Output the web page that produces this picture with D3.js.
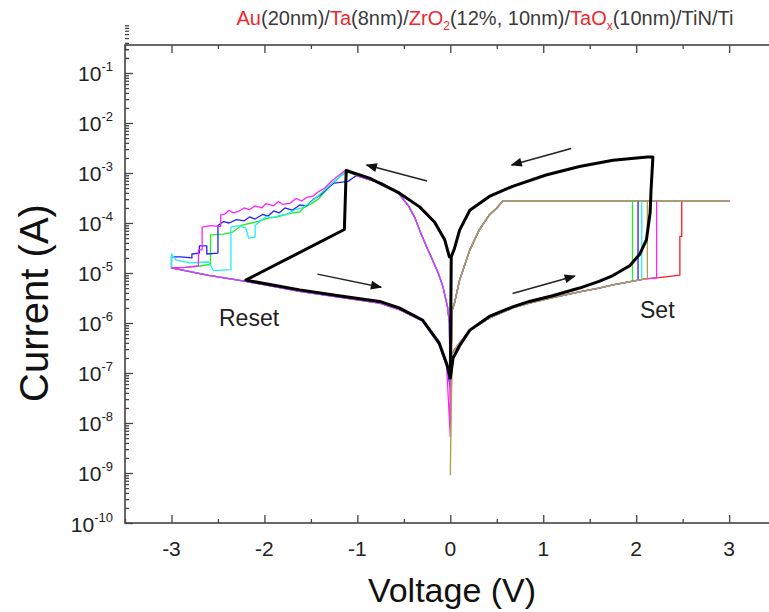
<!DOCTYPE html>
<html lang="en">
<head>
<meta charset="UTF-8"/>
<title>I-V switching curves</title>
<script src="https://d3js.org/d3.v7.min.js"></script>
<style>
  body { margin: 0; background: #fff; }
  svg { font-family: "Liberation Sans", Arial, sans-serif; }
</style>
</head>
<body>
<script>
var w = 769, h = 612;
var margin = {left: 125, top: 45, bottom: 523};

// axis values
var xMajor = [-3, -2, -1, 0, 1, 2, 3];
var xMinor = [-3.5, -2.5, -1.5, -0.5, 0.5, 1.5, 2.5, 3.5];
var yExps = [-1, -2, -3, -4, -5, -6, -7, -8, -9, -10];
var compliance = 2.8e-4;

// thick black cycle [V, A]
var blackCurve = [
  [0, 7.9e-8], [0.03, 2.0e-7], [0.1, 3.5e-7], [0.21, 7.2e-7], [0.42, 1.35e-6], [0.67, 2.1e-6],
  [0.85, 2.7e-6], [1.1, 3.5e-6], [1.39, 5.0e-6], [1.6, 6.8e-6], [1.75, 8.9e-6], [1.93, 1.4e-5],
  [2.04, 2.4e-5], [2.11, 4.6e-5], [2.15, 1.6e-4], [2.16, 4.6e-4], [2.18, 2.1e-3],
  [2.12, 2.1e-3], [1.75, 1.8e-3], [1.39, 1.35e-3], [1.03, 9.1e-4], [0.67, 5.4e-4], [0.42, 3.4e-4],
  [0.21, 1.8e-4], [0.1, 7.2e-5], [0.045, 3.1e-5], [0.01, 2.1e-5], [0, 7.9e-8],
  [-0.04, 1.55e-7], [-0.12, 4.0e-7], [-0.3, 1.15e-6], [-0.55, 2.0e-6], [-0.76, 2.7e-6],
  [-1.2, 3.5e-6], [-1.62, 4.6e-6], [-2.2, 7.2e-6],
  [-1.14, 7.4e-5], [-1.12, 1.12e-3],
  [-0.87, 7.9e-4], [-0.55, 4.0e-4], [-0.33, 2.1e-4], [-0.17, 1.05e-4], [-0.06, 4.6e-5],
  [-0.01, 2.1e-5], [0, 2.1e-5]
];

// shared branches of the coloured cycles
var hrsRight = [
  [0.02, 2.5e-7], [0.1, 4.0e-7], [0.21, 7.1e-7], [0.42, 1.26e-6], [0.67, 2.0e-6], [0.85, 2.5e-6],
  [1.1, 3.2e-6], [1.39, 4.2e-6], [1.6, 5.0e-6], [1.75, 5.8e-6], [1.95, 6.8e-6], [2.1, 7.6e-6],
  [2.25, 8.1e-6], [2.5, 9.1e-6]
];
var lrsRight = [
  [0.57, 2.8e-4], [0.5, 2.0e-4], [0.42, 1.45e-4], [0.31, 7.2e-5], [0.21, 2.9e-5], [0.1, 7.2e-6],
  [0.045, 2.5e-6], [0.02, 1.8e-6]
];
var lrsLeft = [
  [-0.01, 1.0e-6], [-0.03, 2.1e-6], [-0.08, 5.4e-6], [-0.13, 1.0e-5], [-0.19, 1.8e-5],
  [-0.26, 3.5e-5], [-0.33, 7.2e-5], [-0.38, 1.26e-4], [-0.45, 2.2e-4], [-0.55, 3.8e-4],
  [-0.73, 6.2e-4], [-0.9, 7.6e-4], [-1.01, 8.9e-4]
];
var hrsLeft = [
  [-2.6, 9.0e-6], [-2.2, 6.8e-6], [-1.62, 4.3e-6], [-1.2, 3.3e-6], [-0.76, 2.5e-6],
  [-0.55, 1.86e-6], [-0.3, 1.1e-6], [-0.12, 3.7e-7], [-0.04, 1.4e-7]
];

// per-cycle set jumps
var redSet = [[2.47, 9.1e-6], [2.47, 5.4e-5], [2.49, 5.4e-5], [2.49, 2.8e-4]];
var greenSet = [[1.96, 6.8e-6], [1.96, 2.8e-4]];
var blueSet = [[2.02, 7.2e-6], [2.02, 2.8e-4]];
var cyanSet = [[2.06, 7.4e-6], [2.06, 2.8e-4]];
var magentaSet = [[2.22, 8.0e-6], [2.22, 2.8e-4]];
var oliveSet = [[2.12, 7.6e-6], [2.12, 2.8e-4]];

// per-cycle reset traces (noisy part)
var magentaReset = [
  [-1.12, 1.17e-3], [-1.2, 8.9e-4], [-1.27, 7.1e-4], [-1.35, 5.0e-4], [-1.42, 4.2e-4],
  [-1.47, 3.5e-4], [-1.55, 3.2e-4], [-1.6, 2.75e-4], [-1.66, 3.1e-4], [-1.72, 2.5e-4],
  [-1.8, 2.35e-4], [-1.85, 2.7e-4], [-1.9, 2.2e-4], [-1.98, 2.45e-4], [-2.03, 2.0e-4],
  [-2.1, 2.2e-4], [-2.16, 1.86e-4], [-2.22, 2.0e-4], [-2.28, 1.7e-4], [-2.34, 1.6e-4],
  [-2.38, 1.8e-4], [-2.43, 1.5e-4], [-2.47, 1.45e-4], [-2.47, 8.5e-5], [-2.58, 8.9e-5],
  [-2.67, 8.3e-5], [-2.67, 2.9e-5], [-2.71, 2.9e-5], [-2.71, 1.38e-5], [-2.85, 1.3e-5],
  [-3.0, 1.26e-5]
];
var blueReset = [
  [-1.1, 6.8e-4], [-1.25, 6.3e-4], [-1.32, 5.0e-4], [-1.4, 3.6e-4], [-1.47, 3.0e-4],
  [-1.55, 2.2e-4], [-1.62, 2.3e-4], [-1.7, 1.8e-4], [-1.78, 2.0e-4], [-1.84, 1.6e-4],
  [-1.9, 1.74e-4], [-1.96, 1.38e-4], [-2.02, 1.48e-4], [-2.1, 1.2e-4], [-2.16, 1.32e-4],
  [-2.22, 1.1e-4], [-2.3, 1.17e-4], [-2.38, 1.0e-4], [-2.44, 1.07e-4], [-2.5, 8.9e-5],
  [-2.5, 2.5e-5], [-2.62, 2.4e-5], [-2.62, 3.5e-5], [-2.7, 3.5e-5], [-2.7, 2.5e-5],
  [-2.78, 2.4e-5], [-2.78, 2.0e-5], [-2.9, 2.1e-5], [-3.0, 2.1e-5], [-3.0, 1.26e-5]
];
var cyanReset = [
  [-1.12, 1.1e-3], [-1.22, 7.6e-4], [-1.32, 5.2e-4], [-1.42, 3.5e-4], [-1.5, 2.6e-4],
  [-1.6, 2.0e-4], [-1.68, 1.8e-4], [-1.76, 1.5e-4], [-1.84, 1.4e-4], [-1.92, 1.26e-4],
  [-1.98, 1.35e-4], [-2.05, 1.07e-4], [-2.1, 8.9e-5], [-2.1, 5.2e-5], [-2.17, 5.0e-5],
  [-2.2, 7.9e-5], [-2.28, 8.9e-5], [-2.36, 8.3e-5], [-2.36, 1.17e-5], [-2.55, 1.12e-5],
  [-2.6, 1.66e-5], [-2.8, 1.6e-5], [-2.95, 1.8e-5], [-3.0, 2.4e-5], [-3.0, 1.26e-5]
];
var greenReset = [
  [-1.12, 1.07e-3], [-1.25, 6.6e-4], [-1.35, 4.2e-4], [-1.42, 3.0e-4], [-1.5, 2.4e-4],
  [-1.58, 2.0e-4], [-1.62, 1.66e-4], [-1.7, 1.6e-4], [-1.78, 1.45e-4], [-1.86, 1.32e-4],
  [-1.95, 1.26e-4], [-2.04, 1.12e-4], [-2.14, 1.0e-4], [-2.24, 9.1e-5], [-2.34, 6.6e-5],
  [-2.44, 6.0e-5], [-2.58, 5.8e-5], [-2.58, 1.48e-5], [-2.7, 1.38e-5], [-2.85, 1.3e-5],
  [-3.0, 1.26e-5]
];

var cycles = [
  {color: "#ff1a1a", low: 7.9e-8, set: redSet, reset: null},
  {color: "#22ee22", low: 6e-8, set: greenSet, reset: greenReset},
  {color: "#2222ff", low: 5e-8, set: blueSet, reset: blueReset},
  {color: "#22eeee", low: 7e-8, set: cyanSet, reset: cyanReset},
  {color: "#ff22ff", low: 5.4e-9, set: magentaSet, reset: magentaReset},
  {color: "#aaa447", low: 9e-10, set: oliveSet, reset: null}
];

// arrows [from, to] in V, A
var arrows = [
  [[-0.25, 6.9e-4], [-0.9, 1.45e-3]],
  [[1.3, 3.1e-3], [0.66, 1.45e-3]],
  [[-1.43, 9.5e-6], [-0.745, 5.2e-6]],
  [[0.67, 3.9e-6], [1.34, 8.7e-6]]
];

var xScale = d3.scaleLinear().domain([-3.5, 3.5]).range([margin.left, 775.6]);
var yScale = d3.scaleLog().domain([1e-10, 0.363]).range([margin.bottom, margin.top]);

var svg = d3.select("body").append("svg")
  .attr("width", w).attr("height", h);
svg.append("rect").attr("width", w).attr("height", h).attr("fill", "#fff");

svg.append("defs").append("marker")
  .attr("id", "head")
  .attr("markerUnits", "userSpaceOnUse")
  .attr("viewBox", "0 0 10 8")
  .attr("refX", 9).attr("refY", 4)
  .attr("markerWidth", 13).attr("markerHeight", 9)
  .attr("orient", "auto")
  .append("path").attr("d", "M0,0 L10,4 L0,8 Z").attr("fill", "#111");

//------------ title -------------
var red = "#f0282d", grey = "#3a3a3a";
var title = svg.append("text")
  .attr("x", 485).attr("y", 25)
  .attr("text-anchor", "middle")
  .attr("font-size", 20)
  .attr("fill", grey);
var parts = [
  ["Au", red, 0], ["(20nm)/", grey, 0], ["Ta", red, 0], ["(8nm)/", grey, 0],
  ["ZrO", red, 0], ["2", red, 5], ["(12%, 10nm)/", grey, -5], ["TaO", red, 0],
  ["x", red, 5], ["(10nm)/TiN/Ti", grey, -5]
];
parts.forEach(function(p) {
  var t = title.append("tspan").text(p[0]).attr("fill", p[1]).attr("dy", p[2]);
  if (p[2] > 0) t.attr("font-size", 12);
});

//------------ curves -------------
var line = d3.line()
  .x(function(d) { return xScale(d[0]); })
  .y(function(d) { return yScale(d[1]); });

var plot = svg.append("g");

cycles.forEach(function(c) {
  var pts = [[0, c.low]];
  var vs = c.set[0][0];
  hrsRight.forEach(function(p) { if (p[0] < vs) pts.push(p); });
  pts = pts.concat(c.set);
  pts.push([3.0, compliance]);
  pts = pts.concat(lrsRight);
  pts.push([0, c.low]);
  if (c.reset) {
    pts = pts.concat(lrsLeft, c.reset, hrsLeft);
    pts.push([0, c.low]);
  }
  plot.append("path")
    .attr("d", line(pts))
    .attr("fill", "none")
    .attr("stroke", c.color)
    .attr("stroke-width", 1.3)
    .attr("stroke-linejoin", "round");
});

plot.append("path")
  .attr("d", line(blackCurve))
  .attr("fill", "none")
  .attr("stroke", "#000")
  .attr("stroke-width", 3)
  .attr("stroke-linejoin", "round");

// arrows
arrows.forEach(function(a) {
  svg.append("line")
    .attr("x1", xScale(a[0][0])).attr("y1", yScale(a[0][1]))
    .attr("x2", xScale(a[1][0])).attr("y2", yScale(a[1][1]))
    .attr("stroke", "#222").attr("stroke-width", 1.5)
    .attr("marker-end", "url(#head)");
});

//------------ axes -------------
var majorY = yExps.map(function(e) { return Math.pow(10, e); });
var minorY = [];
yExps.forEach(function(e) {
  for (var k = 2; k <= 9; k++) minorY.push(k * Math.pow(10, e));
});
minorY.push(0.2, 0.3);

var axisColor = "#444";
function tickAxis(gen, pos, values, size) {
  var g = svg.append("g").attr("transform", pos)
    .call(gen.tickValues(values).tickSize(size).tickFormat(""));
  g.select(".domain").remove();
  g.selectAll("line").attr("stroke", axisColor).attr("stroke-width", 1.3);
}
tickAxis(d3.axisLeft(yScale), "translate(" + margin.left + ",0)", majorY, -8);
tickAxis(d3.axisLeft(yScale), "translate(" + margin.left + ",0)", minorY, -4);
tickAxis(d3.axisBottom(xScale), "translate(0," + margin.bottom + ")", xMajor, -8);
tickAxis(d3.axisBottom(xScale), "translate(0," + margin.bottom + ")", xMinor, -4);
tickAxis(d3.axisTop(xScale), "translate(0," + margin.top + ")", xMajor, -8);
tickAxis(d3.axisTop(xScale), "translate(0," + margin.top + ")", xMinor, -4);

svg.append("rect")
  .attr("x", margin.left).attr("y", margin.top)
  .attr("width", 775.6 - margin.left).attr("height", margin.bottom - margin.top)
  .attr("fill", "none").attr("stroke", axisColor).attr("stroke-width", 1.6);

// tick labels
yExps.forEach(function(e) {
  var t = svg.append("text")
    .attr("x", 113).attr("y", yScale(Math.pow(10, e)) + 8.5)
    .attr("text-anchor", "end")
    .attr("font-size", 21).attr("fill", "#222");
  t.append("tspan").text("10");
  t.append("tspan").text(e).attr("font-size", 13).attr("dy", -10);
});
xMajor.forEach(function(v) {
  svg.append("text")
    .attr("x", xScale(v)).attr("y", 556)
    .attr("text-anchor", "middle")
    .attr("font-size", 21).attr("fill", "#222")
    .text(v);
});

// axis titles
svg.append("text")
  .attr("transform", "translate(48,303) rotate(-90)")
  .attr("text-anchor", "middle")
  .attr("font-size", 40).attr("fill", "#111")
  .text("Current (A)");
svg.append("text")
  .attr("x", 452).attr("y", 602)
  .attr("text-anchor", "middle")
  .attr("font-size", 34).attr("fill", "#111")
  .text("Voltage (V)");

// annotations
svg.append("text").attr("x", 219).attr("y", 326)
  .attr("font-size", 23).attr("fill", "#222").text("Reset");
svg.append("text").attr("x", 640).attr("y", 318)
  .attr("font-size", 23).attr("fill", "#222").text("Set");
</script>
</body>
</html>
